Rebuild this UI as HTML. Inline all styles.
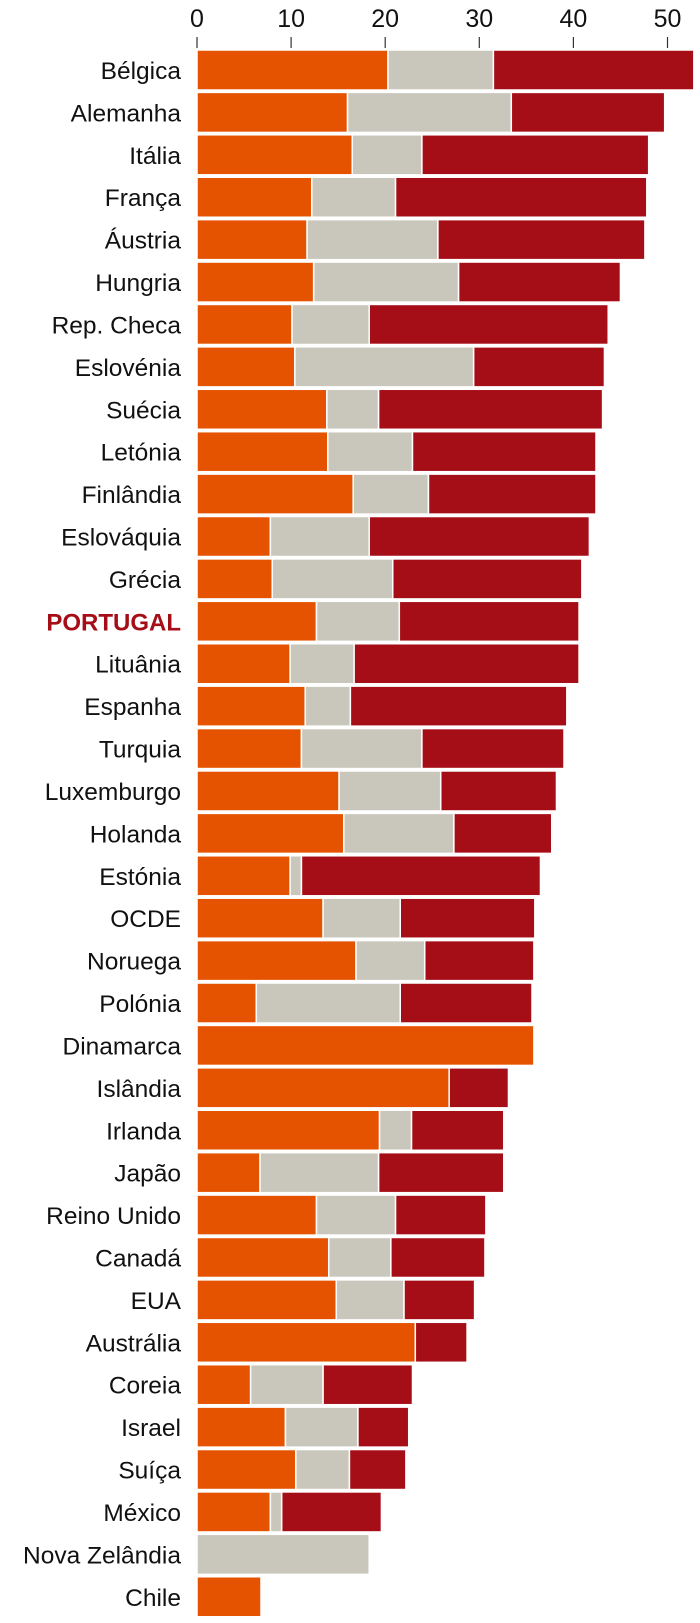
<!DOCTYPE html>
<html><head><meta charset="utf-8">
<style>
html,body{margin:0;padding:0;background:#fff;}
body{width:700px;height:1618px;overflow:hidden;font-family:"Liberation Sans",sans-serif;}
svg text{font-family:"Liberation Sans",sans-serif;}
</style></head>
<body>
<svg id="chart" width="700" height="1618" xmlns="http://www.w3.org/2000/svg"></svg>
<script>
const categories=["Bélgica","Alemanha","Itália","França","Áustria","Hungria","Rep. Checa","Eslovénia","Suécia","Letónia","Finlândia","Eslováquia","Grécia","PORTUGAL","Lituânia","Espanha","Turquia","Luxemburgo","Holanda","Estónia","OCDE","Noruega","Polónia","Dinamarca","Islândia","Irlanda","Japão","Reino Unido","Canadá","EUA","Austrália","Coreia","Israel","Suíça","México","Nova Zelândia","Chile"];
const orangeValues=[20.3,16.0,16.5,12.2,11.7,12.4,10.1,10.4,13.8,13.9,16.6,7.8,8.0,12.7,9.9,11.5,11.1,15.1,15.6,9.9,13.4,16.9,6.3,35.8,26.8,19.4,6.7,12.7,14.0,14.8,23.2,5.7,9.4,10.5,7.8,0,6.8];
const greyValues=[11.2,17.4,7.4,8.9,13.9,15.4,8.2,19.0,5.5,9.0,8.0,10.5,12.8,8.8,6.8,4.8,12.8,10.8,11.7,1.2,8.2,7.3,15.3,0,0,3.4,12.6,8.4,6.6,7.2,0,7.7,7.7,5.7,1.2,18.3,0];
const redValues=[21.3,16.3,24.1,26.7,22.0,17.2,25.4,13.9,23.8,19.5,17.8,23.4,20.1,19.1,23.9,23.0,15.1,12.3,10.4,25.4,14.3,11.6,14.0,0,6.3,9.8,13.3,9.6,10.0,7.5,5.5,9.5,5.4,6.0,10.6,0,0];
const tickLabels=["0","10","20","30","40","50"];
const tickValues=[0,10,20,30,40,50];

(function(){
const NS="http://www.w3.org/2000/svg";
const svg=document.getElementById('chart');
const x0=197, unit=9.41, topY=50, step=42.41, barH=40;
function xScale(v){return x0+v*unit;}
function yScale(i){return topY+i*step;}
function mk(tag,attrs){const e=document.createElementNS(NS,tag);for(const k in attrs)e.setAttribute(k,attrs[k]);svg.appendChild(e);return e;}

tickValues.forEach((v,i)=>{
  const t=mk('line',{x1:xScale(v),x2:xScale(v),y1:37,y2:48,stroke:'#333','stroke-width':1.2});
  
  
  const l=mk('text',{x:xScale(v),y:27,'text-anchor':'middle','font-size':25,fill:'#111'});
  l.textContent=tickLabels[i];
  
  
});

const colors=['#e55300','#c9c7bb','#a60e17'];
const series=[orangeValues,greyValues,redValues];
const segNames=['bar-orange','bar-grey','bar-red'];
categories.forEach((c,i)=>{
  const y=yScale(i);
  let acc=0;
  series.forEach((s,k)=>{
    const v=s[i];
    if(v>0){
      const r=mk('rect',{x:xScale(acc),y:y,width:xScale(acc+v)-xScale(acc),height:barH,fill:colors[k],stroke:'#fff','stroke-width':1.5});
      
      
    }
    acc+=v;
  });
  const isPT=c==='PORTUGAL';
  const t=mk('text',{x:181,y:y+barH/2+9,'text-anchor':'end','font-size':isPT?24:24.5,fill:isPT?'#a60e17':'#111','font-weight':isPT?'bold':'normal'});
  t.textContent=c;
  
  
});
})();
</script>
</body></html>
